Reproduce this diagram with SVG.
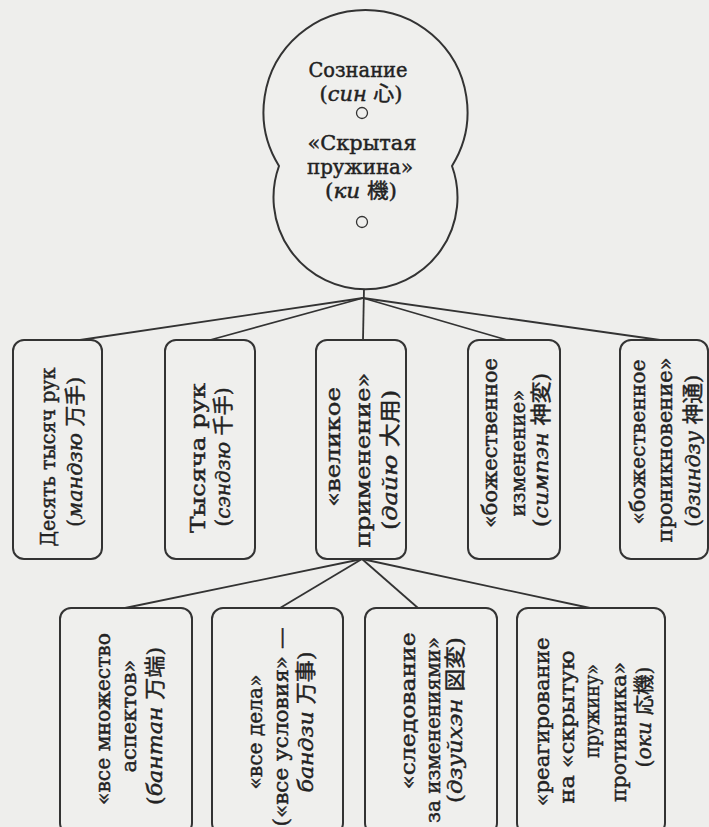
<svg xmlns="http://www.w3.org/2000/svg" width="709" height="827" viewBox="0 0 709 827" font-family="DejaVu Serif, Noto Sans CJK JP, serif">
<style>
.bg{fill:#eeeeec}
.n{fill:#efefed;stroke:#333333;stroke-width:2}
.c{stroke:#333333;stroke-width:1.8;fill:none}
.d{fill:none;stroke:#333333;stroke-width:1.3}
text{font-size:21px;fill:#222222;text-anchor:middle;stroke:#222222;stroke-width:0.45}
.h{font-size:20px}
.i{font-style:italic}
</style>
<rect class="bg" x="0" y="0" width="709" height="827"/>
<g id="connectors">
<line class="c" x1="364" y1="288" x2="363" y2="340"/>
<line class="c" x1="363" y1="298" x2="80" y2="340"/>
<line class="c" x1="363" y1="298" x2="210" y2="340"/>
<line class="c" x1="363" y1="298" x2="507" y2="340"/>
<line class="c" x1="363" y1="298" x2="660" y2="340"/>
<line class="c" x1="362" y1="559" x2="125" y2="608"/>
<line class="c" x1="362" y1="559" x2="280" y2="608"/>
<line class="c" x1="362" y1="559" x2="418" y2="608"/>
<line class="c" x1="362" y1="559" x2="590" y2="608"/>
</g>
<g id="mind">
<path class="n" d="M 279 166 A 102 102 0 1 1 452 166 A 92 92 0 1 1 279 166 Z"/>
<text class="h" x="358" y="77" textLength="99" lengthAdjust="spacingAndGlyphs">Сознание</text>
<text class="h" x="361" y="101" textLength="83" lengthAdjust="spacingAndGlyphs">(<tspan class="i">син</tspan> 心)</text>
<circle class="d" cx="362" cy="113" r="5.5"/>
<text class="h" x="362" y="150" textLength="109" lengthAdjust="spacingAndGlyphs">«Скрытая</text>
<text class="h" x="360" y="174" textLength="106" lengthAdjust="spacingAndGlyphs">пружина»</text>
<text class="h" x="361" y="198" textLength="72" lengthAdjust="spacingAndGlyphs">(<tspan class="i">ки</tspan> 機)</text>
<circle class="d" cx="362" cy="222" r="5.5"/>
</g>
<g id="manju">
<rect class="n" x="13" y="340" width="89" height="219" rx="11"/>
<text transform="rotate(-90)" x="-457" y="55" textLength="179" lengthAdjust="spacingAndGlyphs">Десять тысяч рук</text>
<text transform="rotate(-90)" x="-452" y="82" textLength="150" lengthAdjust="spacingAndGlyphs">(<tspan class="i">мандзю</tspan> 万手)</text>
</g>
<g id="senju">
<rect class="n" x="165" y="340" width="90" height="219" rx="11"/>
<text transform="rotate(-90)" x="-458" y="205" textLength="150" lengthAdjust="spacingAndGlyphs">Тысяча рук</text>
<text transform="rotate(-90)" x="-457" y="230" textLength="139" lengthAdjust="spacingAndGlyphs">(<tspan class="i">сэндзю</tspan> 千手)</text>
</g>
<g id="daiyu">
<rect class="n" x="316" y="340" width="90" height="219" rx="11"/>
<text transform="rotate(-90)" x="-447" y="340" textLength="120" lengthAdjust="spacingAndGlyphs">«великое</text>
<text transform="rotate(-90)" x="-460" y="370" textLength="175" lengthAdjust="spacingAndGlyphs">применение»</text>
<text transform="rotate(-90)" x="-460" y="397" textLength="140" lengthAdjust="spacingAndGlyphs">(<tspan class="i">дайю</tspan> 大用)</text>
</g>
<g id="shimpen">
<rect class="n" x="468" y="340" width="92" height="219" rx="11"/>
<text transform="rotate(-90)" x="-443" y="497" textLength="170" lengthAdjust="spacingAndGlyphs">«божественное</text>
<text transform="rotate(-90)" x="-453" y="525" textLength="127" lengthAdjust="spacingAndGlyphs">изменение»</text>
<text transform="rotate(-90)" x="-450" y="548" textLength="154" lengthAdjust="spacingAndGlyphs">(<tspan class="i">симпэн</tspan> 神変)</text>
</g>
<g id="jindzu">
<rect class="n" x="620" y="340" width="88" height="219" rx="11"/>
<text transform="rotate(-90)" x="-442" y="645" textLength="165" lengthAdjust="spacingAndGlyphs">«божественное</text>
<text transform="rotate(-90)" x="-450" y="672" textLength="185" lengthAdjust="spacingAndGlyphs">проникновение»</text>
<text transform="rotate(-90)" x="-451" y="700" textLength="152" lengthAdjust="spacingAndGlyphs">(<tspan class="i">дзиндзу</tspan> 神通)</text>
</g>
<g id="bantan">
<rect class="n" x="60" y="608" width="132" height="226" rx="11"/>
<text transform="rotate(-90)" x="-719" y="110" textLength="172" lengthAdjust="spacingAndGlyphs">«все множество</text>
<text transform="rotate(-90)" x="-716" y="136" textLength="113" lengthAdjust="spacingAndGlyphs">аспектов»</text>
<text transform="rotate(-90)" x="-726" y="162" textLength="158" lengthAdjust="spacingAndGlyphs">(<tspan class="i">бантан</tspan> 万端)</text>
</g>
<g id="banji">
<rect class="n" x="212" y="608" width="131" height="226" rx="11"/>
<text transform="rotate(-90)" x="-732" y="262" textLength="115" lengthAdjust="spacingAndGlyphs">«все дела»</text>
<text transform="rotate(-90)" x="-727" y="288" textLength="199" lengthAdjust="spacingAndGlyphs">(«все условия» —</text>
<text transform="rotate(-90)" x="-722" y="313" textLength="141" lengthAdjust="spacingAndGlyphs"><tspan class="i">бандзи</tspan> 万事)</text>
</g>
<g id="zuihen">
<rect class="n" x="365" y="608" width="132" height="226" rx="11"/>
<text transform="rotate(-90)" x="-711" y="415" textLength="157" lengthAdjust="spacingAndGlyphs">«следование</text>
<text transform="rotate(-90)" x="-730" y="440" textLength="186" lengthAdjust="spacingAndGlyphs">за изменениями»</text>
<text transform="rotate(-90)" x="-720" y="462" textLength="166" lengthAdjust="spacingAndGlyphs">(<tspan class="i">дзуйхэн</tspan> 図変)</text>
</g>
<g id="oki">
<rect class="n" x="517" y="608" width="148" height="226" rx="11"/>
<text transform="rotate(-90)" x="-722" y="549" textLength="169" lengthAdjust="spacingAndGlyphs">«реагирование</text>
<text transform="rotate(-90)" x="-727" y="574" textLength="153" lengthAdjust="spacingAndGlyphs">на «скрытую</text>
<text transform="rotate(-90)" x="-711" y="599" textLength="94" lengthAdjust="spacingAndGlyphs">пружину»</text>
<text transform="rotate(-90)" x="-732" y="626" textLength="140" lengthAdjust="spacingAndGlyphs">противника»</text>
<text transform="rotate(-90)" x="-717" y="651" textLength="101" lengthAdjust="spacingAndGlyphs">(<tspan class="i">оки</tspan> 応機)</text>
</g>
</svg>
